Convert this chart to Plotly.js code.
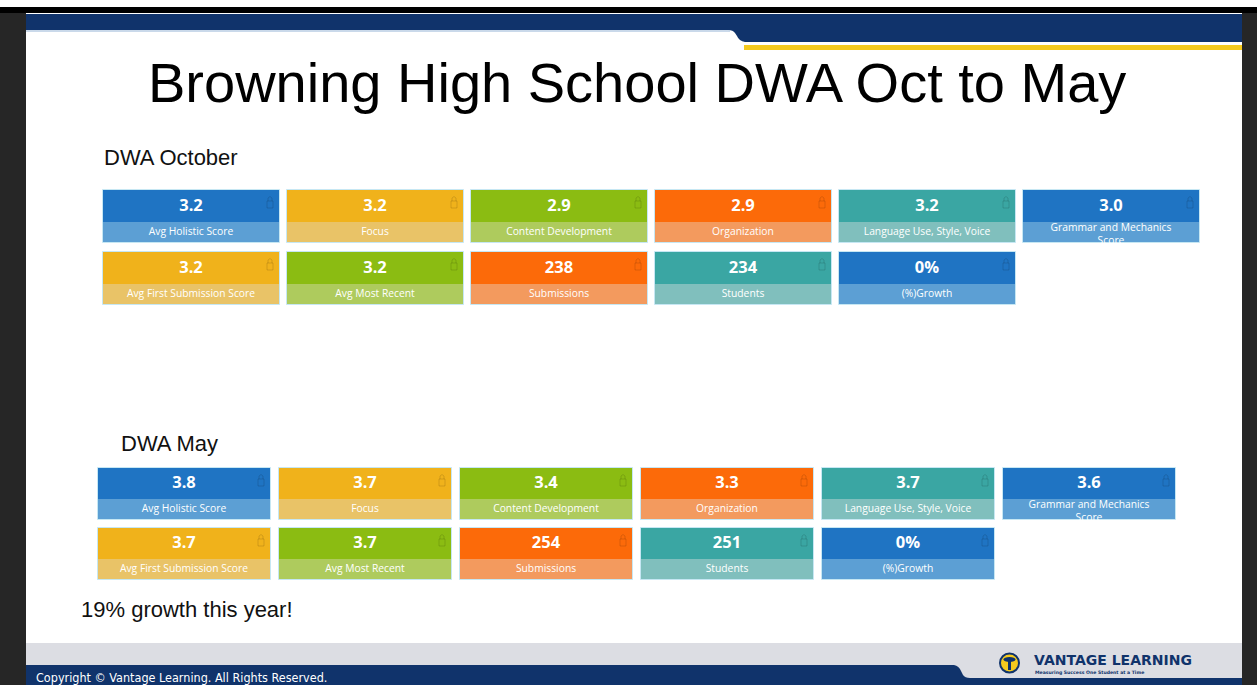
<!DOCTYPE html>
<html>
<head>
<meta charset="utf-8">
<script src="https://cdn.plot.ly/plotly-3.0.1.min.js"></script>
<style>html,body{margin:0;padding:0;background:#fff;}#chart{width:1257px;height:685px;}</style>
</head>
<body>
<div id="chart"></div>
<script>
// ---- data ----
const tileLabels = ['Avg Holistic Score', 'Focus', 'Content Development', 'Organization',
  'Language Use, Style, Voice', 'Grammar and Mechanics<br>Score',
  'Avg First Submission Score', 'Avg Most Recent', 'Submissions', 'Students', '(%)Growth'];
const octoberValues = [3.2, 3.2, 2.9, 2.9, 3.2, 3.0, 3.2, 3.2, 238, 234, 0];
const mayValues = [3.8, 3.7, 3.4, 3.3, 3.7, 3.6, 3.7, 3.7, 254, 251, 0];
const valueKinds = ['score', 'score', 'score', 'score', 'score', 'score', 'score', 'score', 'count', 'count', 'percent'];
const sectionNames = ['DWA October', 'DWA May'];
const slideTitle = 'Browning High School DWA Oct to May';
const growthNote = '19% growth this year!';

// ---- styles ----
const palette = {
  blue:   ['#1f74c3', '#5c9fd4'],
  yellow: ['#f0b21b', '#e9c367'],
  green:  ['#8bbc12', '#aecb5d'],
  orange: ['#fc6a09', '#f39a5e'],
  teal:   ['#3aa6a3', '#80bfbd']
};
const tileColors = ['blue', 'yellow', 'green', 'orange', 'teal', 'blue', 'yellow', 'green', 'orange', 'teal', 'blue'];
const NAVY = '#10336b';

function fmt(v, kind) {
  if (kind === 'score') return v.toFixed(1);
  if (kind === 'percent') return v + '%';
  return String(v);
}

const sections = [
  {values: octoberValues, x0: 103, pitch: 184, w: 176, rows: [190, 252], vh: 32, lh: 20},
  {values: mayValues,     x0: 98,  pitch: 181, w: 172, rows: [468, 528], vh: 31, lh: 20}
];

const shapes = [];
const traces = [];

// slide frame
shapes.push({type: 'rect', xref: 'x', yref: 'y', x0: 0, x1: 1257, y0: 7, y1: 13, fillcolor: '#000', line: {width: 0}, layer: 'below'});
shapes.push({type: 'rect', xref: 'x', yref: 'y', x0: 0, x1: 26, y0: 13, y1: 685, fillcolor: '#262626', line: {width: 0}, layer: 'below'});
shapes.push({type: 'rect', xref: 'x', yref: 'y', x0: 1242, x1: 1257, y0: 13, y1: 685, fillcolor: '#262626', line: {width: 0}, layer: 'below'});
// top navy band with step
shapes.push({type: 'path', xref: 'x', yref: 'y', layer: 'below',
  path: 'M26,14 L1242,14 L1242,42 L745,42 Q739,41 737,36 L735,33 Q733,30 728,30 L26,30 Z',
  fillcolor: NAVY, line: {width: 0}});
shapes.push({type: 'line', xref: 'x', yref: 'y', x0: 26, x1: 730, y0: 31, y1: 31, line: {color: '#b8cde3', width: 1.5}, layer: 'below'});
shapes.push({type: 'rect', xref: 'x', yref: 'y', x0: 744, x1: 1242, y0: 45, y1: 50, fillcolor: '#f5ca1e', line: {width: 0}, layer: 'below'});
// bottom bands
shapes.push({type: 'rect', xref: 'x', yref: 'y', x0: 26, x1: 1242, y0: 643, y1: 680, fillcolor: '#dcdde3', line: {width: 0}, layer: 'below'});
shapes.push({type: 'path', xref: 'x', yref: 'y', layer: 'below',
  path: 'M26,665 L954,665 Q959,666 961,671 L963,675 Q965,678 970,678 L1242,678 L1242,685 L26,685 Z',
  fillcolor: NAVY, line: {width: 0}});
// logo
shapes.push({type: 'circle', xref: 'x', yref: 'y', x0: 1000, x1: 1019, y0: 653.5, y1: 672.5, fillcolor: '#f5ca1e', line: {color: NAVY, width: 2}, layer: 'below'});
shapes.push({type: 'circle', xref: 'x', yref: 'y', x0: 1003.5, x1: 1015.5, y0: 657, y1: 662, fillcolor: NAVY, line: {width: 0}, layer: 'below'});
shapes.push({type: 'rect', xref: 'x', yref: 'y', x0: 1008, x1: 1011, y0: 660, y1: 670, fillcolor: NAVY, line: {width: 0}, layer: 'below'});

// tiles
sections.forEach((s, si) => {
  const vx = [], vy = [], vt = [], lx = [], ly = [], lt = [];
  s.values.forEach((v, i) => {
    const row = i < 6 ? 0 : 1;
    const col = i < 6 ? i : i - 6;
    const x0 = s.x0 + col * s.pitch, x1 = x0 + s.w;
    const top = s.rows[row], mid = top + s.vh, bot = mid + s.lh;
    const c = palette[tileColors[i]];
    shapes.push({type: 'rect', xref: 'x', yref: 'y', x0: x0, x1: x1, y0: top, y1: mid, fillcolor: c[0], line: {width: 0}, layer: 'below'});
    shapes.push({type: 'rect', xref: 'x', yref: 'y', x0: x0, x1: x1, y0: mid, y1: bot, fillcolor: c[1], line: {width: 0}, layer: 'below'});
    shapes.push({type: 'rect', xref: 'x', yref: 'y', x0: x0 - 0.5, x1: x1 + 0.5, y0: top - 0.5, y1: bot + 0.5, fillcolor: 'rgba(0,0,0,0)', line: {color: 'rgba(160,215,235,0.6)', width: 1}, layer: 'below'});
    // lock glyph
    const lx0 = x1 - 12, lx1 = x1 - 6;
    shapes.push({type: 'path', xref: 'x', yref: 'y', layer: 'below',
      path: `M${lx0 + 1},${top + 11} L${lx0 + 1},${top + 8} Q${lx0 + 3},${top + 5} ${lx1 - 1},${top + 8} L${lx1 - 1},${top + 11} M${lx0},${top + 11} L${lx1},${top + 11} L${lx1},${top + 18} L${lx0},${top + 18} Z`,
      fillcolor: 'rgba(0,0,0,0)', line: {color: 'rgba(0,0,0,0.13)', width: 1}});
    vx.push((x0 + x1) / 2); vy.push(top + s.vh / 2 + 0.5); vt.push(fmt(v, valueKinds[i]));
    lx.push((x0 + x1) / 2);
    const twoLine = tileLabels[i].indexOf('<br>') >= 0;
    ly.push(mid + s.lh / 2 + (twoLine ? 3 : 0)); lt.push(tileLabels[i]);
    if (twoLine) {
      // mask text overflowing the bottom of the tile
      shapes.push({type: 'rect', xref: 'x', yref: 'y', x0: x0 - 1, x1: x1 + 1, y0: bot + 1, y1: bot + 9, fillcolor: '#fff', line: {width: 0}, layer: 'above'});
    }
  });
  traces.push({type: 'scatter', mode: 'text', x: vx, y: vy, text: vt, textposition: 'middle center',
    textfont: {family: 'Open Sans, Arial, sans-serif', size: 16.5, color: '#ffffff', weight: 'bold'},
    hoverinfo: 'skip', showlegend: false, cliponaxis: false});
  traces.push({type: 'scatter', mode: 'text', x: lx, y: ly, text: lt, textposition: 'middle center',
    textfont: {family: 'Open Sans, Arial, sans-serif', size: 10.3, color: '#ffffff'},
    hoverinfo: 'skip', showlegend: false, cliponaxis: false});
});

const slideFont = 'Liberation Sans, Arial, sans-serif';
const annotations = [
  {text: slideTitle, x: 637, y: 82, xref: 'x', yref: 'y', showarrow: false, xanchor: 'center', yanchor: 'middle',
    font: {family: slideFont, size: 56, color: '#000'}},
  {text: sectionNames[0], x: 102, y: 157, xref: 'x', yref: 'y', showarrow: false, xanchor: 'left', yanchor: 'middle',
    font: {family: slideFont, size: 22, color: '#111'}},
  {text: sectionNames[1], x: 119, y: 443, xref: 'x', yref: 'y', showarrow: false, xanchor: 'left', yanchor: 'middle',
    font: {family: slideFont, size: 22, color: '#111'}},
  {text: growthNote, x: 79, y: 609, xref: 'x', yref: 'y', showarrow: false, xanchor: 'left', yanchor: 'middle',
    font: {family: slideFont, size: 22, color: '#111'}},
  {text: 'Copyright © Vantage Learning. All Rights Reserved.', x: 34, y: 677, xref: 'x', yref: 'y', showarrow: false, xanchor: 'left', yanchor: 'middle',
    font: {family: 'Liberation Sans Narrow, DejaVu Sans Condensed, sans-serif', size: 12.5, color: '#fff'}},
  {text: '<b>VANTAGE LEARNING</b>', x: 1032, y: 660, xref: 'x', yref: 'y', showarrow: false, xanchor: 'left', yanchor: 'middle',
    font: {family: 'DejaVu Sans, sans-serif', size: 14, color: NAVY}},
  {text: '<b>Measuring Success One Student at a Time</b>', x: 1033, y: 672.5, xref: 'x', yref: 'y', showarrow: false, xanchor: 'left', yanchor: 'middle',
    font: {family: 'DejaVu Sans, sans-serif', size: 4.6, color: NAVY}}
];

const layout = {
  width: 1257, height: 685, autosize: false,
  margin: {l: 0, r: 0, t: 0, b: 0, pad: 0},
  paper_bgcolor: '#ffffff', plot_bgcolor: '#ffffff',
  xaxis: {range: [0, 1257], visible: false, fixedrange: true},
  yaxis: {range: [685, 0], visible: false, fixedrange: true},
  shapes: shapes, annotations: annotations, showlegend: false
};
Plotly.newPlot('chart', traces, layout, {staticPlot: true, displayModeBar: false});
</script>
</body>
</html>
